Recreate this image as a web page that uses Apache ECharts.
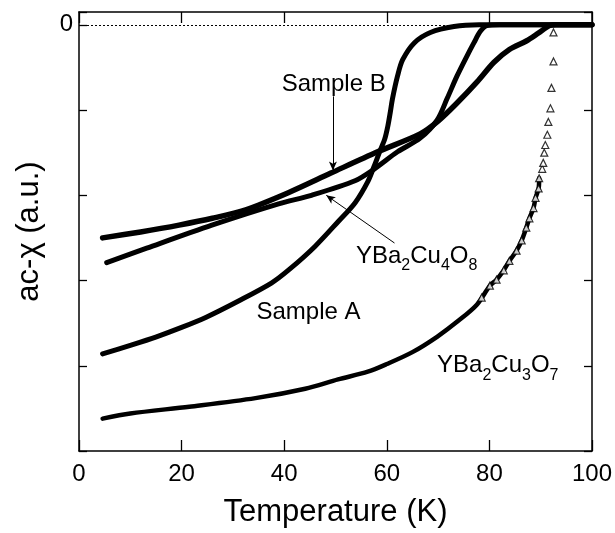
<!DOCTYPE html>
<html>
<head>
<meta charset="utf-8">
<script src="https://cdn.jsdelivr.net/npm/echarts@6/dist/echarts.min.js"></script>
<style>
html,body{margin:0;padding:0;background:#fff;}
#c{width:615px;height:533px;}
</style>
</head>
<body>
<div id="c"></div>
<script>
// ---- data (temperature K, ac-chi a.u.) ----
const xTicks = [0, 20, 40, 60, 80, 100];
const sampleA = [[4.6,-3.86],[10,-3.76],[15.1,-3.66],[20,-3.55],[24.8,-3.43],[31.1,-3.24],[37.5,-3.03],[41,-2.87],[46,-2.60],[50.5,-2.31],[53.8,-2.09],[56.3,-1.84],[57.6,-1.65],[58.6,-1.49],[59.6,-1.34],[60.2,-1.19],[60.7,-1.02],[61.1,-0.87],[62.1,-0.60],[63.1,-0.41],[65.4,-0.21],[68.5,-0.09],[73.1,-0.02],[78,0],[100,0]];
const sampleB = [[4.6,-2.50],[12,-2.43],[19.5,-2.35],[26,-2.27],[32.5,-2.17],[40.8,-1.97],[49.1,-1.74],[58.2,-1.49],[66.5,-1.28],[70,-1.13],[73.5,-0.93],[77.6,-0.67],[80.9,-0.44],[83.9,-0.29],[87.2,-0.19],[89.5,-0.10],[91.7,-0.01],[93,0],[100,0]];
const ybco124 = [[5.4,-2.79],[13.2,-2.62],[25.9,-2.35],[38.9,-2.10],[45.3,-2.0],[53.8,-1.83],[57.6,-1.69],[62.1,-1.49],[66.5,-1.33],[69.8,-1.12],[71.8,-0.86],[73.7,-0.60],[75.6,-0.37],[77,-0.21],[78.2,-0.08],[79.5,-0.01],[82,0],[100,0]];
const ybco123Line = [[4.6,-4.62],[10,-4.56],[21.5,-4.48],[34.4,-4.38],[44.1,-4.27],[50.5,-4.16],[56.3,-4.07],[60,-3.98],[65,-3.84],[69.8,-3.66],[74,-3.47],[77.6,-3.28],[80.1,-3.06],[81.4,-2.99],[82.8,-2.88],[83.9,-2.77],[85.3,-2.65],[86.3,-2.53],[87.2,-2.38],[87.8,-2.27],[88.6,-2.15],[89.0,-2.03],[89.6,-1.92],[89.7,-1.80]];
const ybco123Tri = [[78.5,-3.2],[80.1,-3.06],[81.4,-2.99],[82.8,-2.88],[83.9,-2.77],[85.3,-2.65],[86.3,-2.53],[87.2,-2.38],[87.8,-2.27],[88.6,-2.15],[89.0,-2.03],[89.6,-1.92],[89.7,-1.80],[90.3,-1.69],[90.5,-1.62],[90.7,-1.50],[90.9,-1.41],[91.3,-1.29],[91.5,-1.14],[91.9,-0.98],[92.1,-0.74],[92.5,-0.43],[92.5,-0.09]];
const zeroLevel = 0;

// ---- annotations (data coordinates) ----
const labels = [
  {text: 'Sample B', at: [39.5, -0.70]},
  {text: 'Sample A', at: [34.6, -3.37]},
  {rich: [['YBa', 'n'], ['2', 's'], ['Cu', 'n'], ['4', 's'], ['O', 'n'], ['8', 's']], at: [54.0, -2.69]},
  {rich: [['YBa', 'n'], ['2', 's'], ['Cu', 'n'], ['3', 's'], ['O', 'n'], ['7', 's']], at: [69.8, -3.97]}
];
const arrows = [
  [[49.5, -0.84], [49.5, -1.71]],
  [[61.5, -2.56], [48.2, -2.00]]
];

const FONT = '"Liberation Sans", Arial, Helvetica, sans-serif';
const chart = echarts.init(document.getElementById('c'), null, {renderer: 'canvas'});

const axisLineStyle = {color: '#000', width: 1.5};
function xAx(pos, withLabels) {
  return {
    type: 'value', min: xTicks[0], max: xTicks[xTicks.length - 1], interval: 20, position: pos,
    axisLine: {show: true, onZero: false, lineStyle: axisLineStyle},
    axisTick: {show: true, inside: true, length: 11, lineStyle: {color: '#000', width: 1.3}},
    axisLabel: {show: withLabels, fontSize: 24, color: '#000', fontFamily: FONT, margin: 11},
    splitLine: {show: false},
    name: withLabels ? 'Temperature (K)' : '', nameLocation: 'middle', nameGap: 46,
    nameTextStyle: {fontSize: 31, color: '#000', fontFamily: FONT}
  };
}
function yAx(pos, withLabels) {
  return {
    type: 'value', min: -5, max: 0.15, interval: 1, position: pos,
    axisLine: {show: true, onZero: false, lineStyle: axisLineStyle},
    axisTick: {show: true, inside: true, length: 8, lineStyle: {color: '#000', width: 1.3}},
    axisLabel: {show: withLabels, fontSize: 24, color: '#000', fontFamily: FONT, margin: 6,
      formatter: v => (Math.abs(v) < 1e-9 ? '0' : '')},
    splitLine: {show: false},
    name: withLabels ? 'ac-χ (a.u.)' : '', nameLocation: 'middle', nameGap: 34, nameRotate: 90,
    nameTextStyle: {fontSize: 31, color: '#000', fontFamily: FONT}
  };
}

function lineSeries(name, data, width) {
  return {
    name, type: 'line', data, showSymbol: false, smooth: 0.3, z: 3,
    lineStyle: {color: '#000', width, cap: 'round', join: 'round'}
  };
}

const option = {
  animation: false,
  backgroundColor: '#fff',
  grid: {left: 79, right: 19, top: 12, bottom: 78},
  xAxis: [xAx('bottom', true), xAx('top', false)],
  yAxis: [yAx('left', true), yAx('right', false)],
  series: [
    Object.assign(lineSeries('Sample A', sampleA, 5), {
      markLine: {
        silent: true, symbol: ['none', 'none'], label: {show: false},
        lineStyle: {color: '#000', width: 1, type: [2, 2]},
        data: [{yAxis: zeroLevel}]
      }
    }),
    lineSeries('Sample B', sampleB, 5.5),
    lineSeries('YBa2Cu4O8', ybco124, 5),
    Object.assign(lineSeries('YBa2Cu3O7', ybco123Line, 4.5), {
      markLine: {
        silent: true, symbol: ['none', 'arrow'], symbolSize: [6, 9], label: {show: false},
        lineStyle: {color: '#000', width: 1, type: 'solid'},
        data: arrows.map(a => [{coord: a[0]}, {coord: a[1]}])
      }
    }),
    {
      name: 'YBa2Cu3O7 pts', type: 'scatter', data: ybco123Tri, symbol: 'triangle', symbolSize: 7, z: 4,
      itemStyle: {color: '#fff', borderColor: '#000', borderWidth: 1.2}
    }
  ]
};
chart.setOption(option);

const graphics = labels.map(l => {
  const p = chart.convertToPixel({xAxisIndex: 0, yAxisIndex: 0}, l.at);
  let style;
  if (l.rich) {
    style = {
      text: l.rich.map(t => '{' + t[1] + '|' + t[0] + '}').join(''),
      rich: {
        n: {fontSize: 24, fontFamily: FONT, fill: '#000', lineHeight: 28, verticalAlign: 'bottom'},
        s: {fontSize: 16, fontFamily: FONT, fill: '#000', lineHeight: 28, verticalAlign: 'bottom', padding: [0, 0, -6, 0]}
      },
      align: 'left', verticalAlign: 'middle'
    };
  } else {
    style = {text: l.text, fontSize: 24, fontFamily: FONT, fill: '#000', align: 'left', verticalAlign: 'middle'};
  }
  return {type: 'text', x: p[0], y: p[1], z: 10, style};
});
chart.setOption({graphic: graphics});
</script>
</body>
</html>
